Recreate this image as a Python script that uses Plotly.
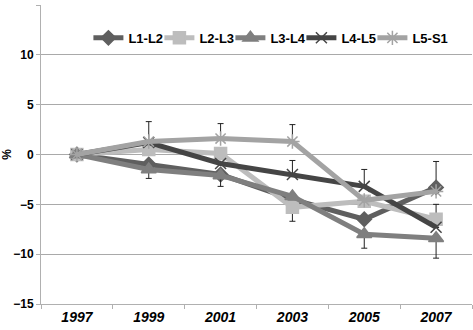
import plotly.graph_objects as go

years = ["1997", "1999", "2001", "2003", "2005", "2007"]
series_names = ["L1-L2", "L2-L3", "L3-L4", "L4-L5", "L5-S1"]
l1_l2 = [0, -1.0, -2.0, -4.5, -6.5, -3.3]
l2_l3 = [0, 0.5, 0.1, -5.3, -4.7, -6.5]
l3_l4 = [0, -1.5, -2.1, -4.2, -8.0, -8.4]
l4_l5 = [0, 1.2, -0.9, -2.0, -3.2, -7.3]
l5_s1 = [0, 1.3, 1.6, 1.3, -4.6, -3.7]

err_plus = {
    "L1-L2": [0, 0, 0, 0, 0, 2.6],
    "L2-L3": [0, 0, 0, 0, 0, 1.5],
    "L3-L4": [0, 0, 0, 0, 0, 0],
    "L4-L5": [0, 0, 0, 1.4, 1.7, 0],
    "L5-S1": [0, 2.0, 1.5, 1.7, 0, 0],
}
err_minus = {
    "L1-L2": [0, 0, 0, 0, 0, 0],
    "L2-L3": [0, 0, 0, 1.4, 0, 0],
    "L3-L4": [0, 0.9, 1.1, 0, 1.4, 2.0],
    "L4-L5": [0, 0, 0, 0, 0, 0],
    "L5-S1": [0, 0, 0, 0, 0, 0],
}

values = [l1_l2, l2_l3, l3_l4, l4_l5, l5_s1]
colors = ["#5f5f5f", "#bdbdbd", "#7f7f7f", "#454545", "#a3a3a3"]
symbols = ["diamond", "square", "triangle-up", "x-thin-open", "asterisk-open"]
msizes = [11, 12, 13, 11, 12]

fig = go.Figure()
for name, vals, col, sym, ms in zip(series_names, values, colors, symbols, msizes):
    fig.add_trace(go.Scatter(
        x=years, y=vals, name=name, mode="lines+markers",
        line=dict(color=col, width=5),
        marker=dict(symbol=sym, size=ms, color=col, line=dict(color=col, width=1.5)),
        error_y=dict(type="data", symmetric=False, array=err_plus[name],
                     arrayminus=err_minus[name], color="#222222", thickness=1, width=3),
    ))
# invisible spacer entry so the last legend label is not clipped
fig.add_trace(go.Scatter(x=[None], y=[None], mode="lines", name=" ",
                         line=dict(color="rgba(0,0,0,0)"), hoverinfo="skip"))

fig.update_layout(
    width=473, height=330,
    margin=dict(l=41, r=1, t=5, b=26, autoexpand=False),
    paper_bgcolor="white", plot_bgcolor="white",
    font=dict(family="Liberation Sans, Arial, sans-serif", color="#000000"),
    showlegend=True,
    legend=dict(orientation="h", x=0.11, y=0.89, xanchor="left", yanchor="middle",
                font=dict(size=13, family="Liberation Sans, Arial, sans-serif", weight="bold"),
                bgcolor="rgba(255,255,255,0)", itemwidth=30, tracegroupgap=0,
                entrywidth=26, entrywidthmode="pixels"),
    xaxis=dict(type="category", tickson="boundaries", ticks="outside", ticklen=4,
               tickcolor="#b0b0b0", showline=True, linecolor="#b0b0b0", linewidth=1,
               showgrid=False, tickfont=dict(size=14, style="italic", weight="bold"),
               range=[-0.5, 5.5]),
    yaxis=dict(range=[-15, 15], dtick=5, showgrid=True, gridcolor="#a9a9a9", gridwidth=1,
               zeroline=False, showline=True, linecolor="#b0b0b0", ticks="outside",
               ticklen=4, tickcolor="#b0b0b0", tickfont=dict(size=12, weight="bold"),
               title=dict(text="%", font=dict(size=12, weight="bold"), standoff=4)),
)

fig.write_html("out.html", config={"displayModeBar": False},
               post_script="document.body.style.margin='0';")
